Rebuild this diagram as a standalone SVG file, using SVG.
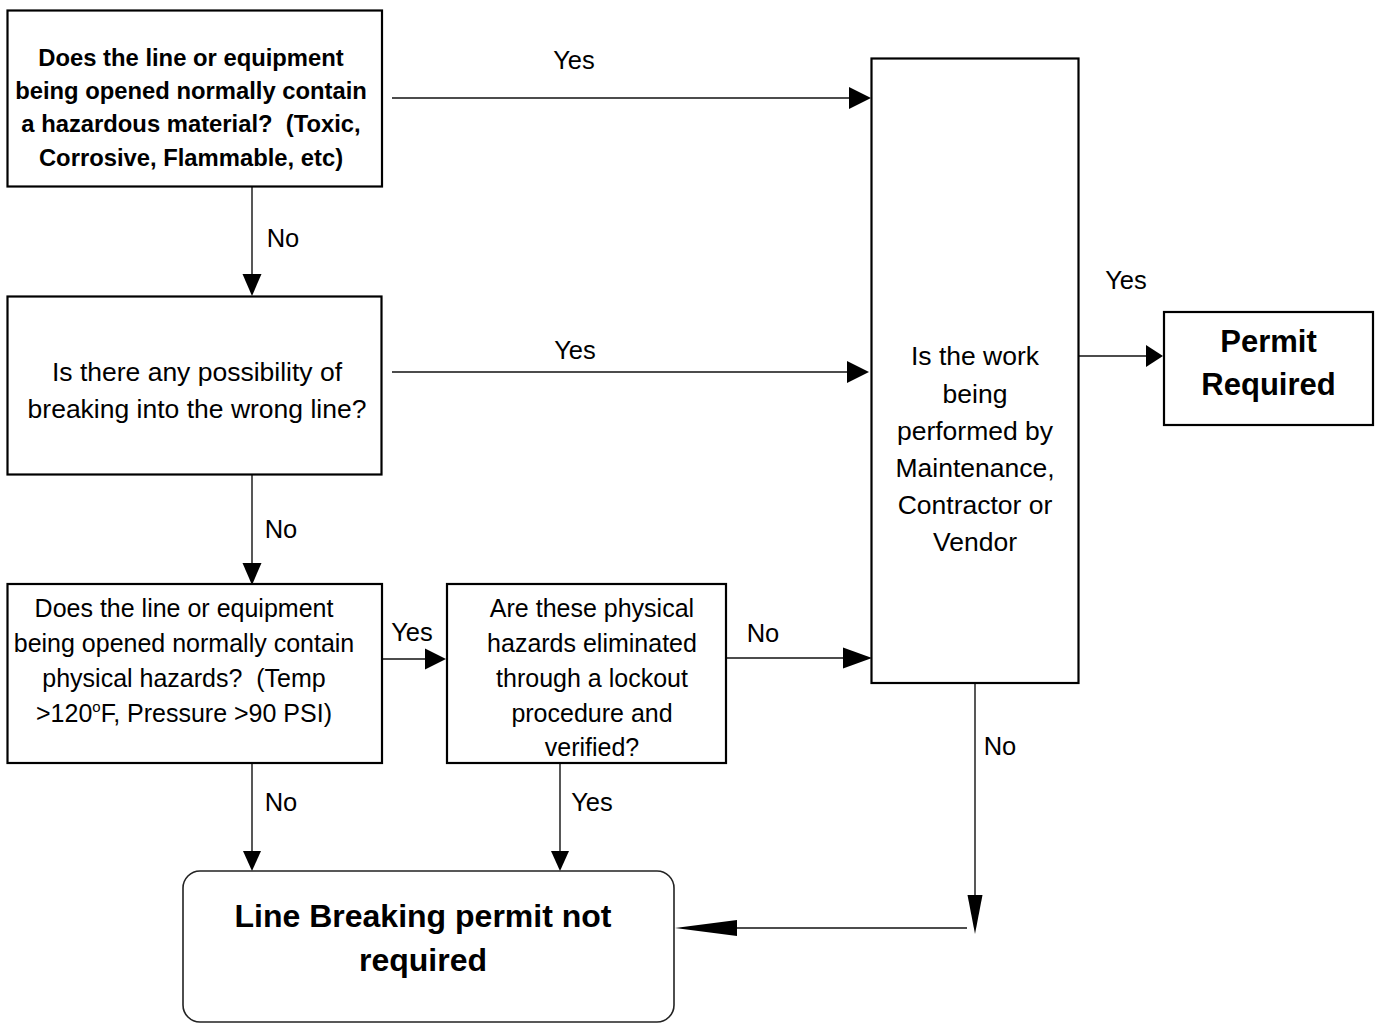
<svg xmlns="http://www.w3.org/2000/svg" width="1376" height="1023" viewBox="0 0 1376 1023">
<style>
.box{fill:#fff;stroke:#000;stroke-width:2.2}
.rbox{fill:#fff;stroke:#222;stroke-width:1.6}
.ln{fill:none;stroke:#111;stroke-width:1.4}
.hd{fill:#000;stroke:none}
text{font-family:"Liberation Sans",Arial,sans-serif;fill:#000;text-anchor:middle;white-space:pre}
.t{font-size:25px}
.tw{font-size:26.5px}
.tb{font-size:23.8px;font-weight:bold}
.tB{font-size:31px;font-weight:bold}
.tL{font-size:32px;font-weight:bold}
.lbl{font-size:25.5px}
</style>
<rect width="1376" height="1023" fill="#fff"/>
<g id="connectors">
  <path class="ln" d="M392,98 H850"/><polygon class="hd" points="849,87 871,98 849,109"/>
  <path class="ln" d="M252,187 V276"/><polygon class="hd" points="242.5,274 261.5,274 252,296"/>
  <path class="ln" d="M392,372 H848"/><polygon class="hd" points="847,361 869,372 847,383"/>
  <path class="ln" d="M252,475 V565"/><polygon class="hd" points="242.5,563 261.5,563 252,585"/>
  <path class="ln" d="M382,659 H426"/><polygon class="hd" points="425,648.5 446,659 425,669.5"/>
  <path class="ln" d="M726,658 H845"/><polygon class="hd" points="843,647.5 872,658 843,668.5"/>
  <path class="ln" d="M1079,356 H1148"/><polygon class="hd" points="1146,345 1163,356 1146,367"/>
  <path class="ln" d="M975,683 V897"/><polygon class="hd" points="967.5,895 982.5,895 975,934"/>
  <path class="ln" d="M967,928 H735"/><polygon class="hd" points="737,920 737,936 675,928"/>
  <path class="ln" d="M252,763 V852"/><polygon class="hd" points="243,851 261,851 252,871"/>
  <path class="ln" d="M560,763 V852"/><polygon class="hd" points="551,851 569,851 560,871"/>
  <text class="lbl" x="574" y="69">Yes</text>
  <text class="lbl" x="283" y="247">No</text>
  <text class="lbl" x="575" y="359">Yes</text>
  <text class="lbl" x="281" y="538">No</text>
  <text class="lbl" x="412" y="641">Yes</text>
  <text class="lbl" x="763" y="642">No</text>
  <text class="lbl" x="1126" y="289">Yes</text>
  <text class="lbl" x="1000" y="755">No</text>
  <text class="lbl" x="281" y="811">No</text>
  <text class="lbl" x="592" y="811">Yes</text>
</g>
<g id="q1">
  <rect class="box" x="7.5" y="10.5" width="374.5" height="176"/>
  <text class="tb" x="191" y="66">Does the line or equipment</text>
  <text class="tb" x="191" y="99">being opened normally contain</text>
  <text class="tb" x="191" y="132">a hazardous material?  (Toxic,</text>
  <text class="tb" x="191" y="166">Corrosive, Flammable, etc)</text>
</g>
<g id="q2">
  <rect class="box" x="7.5" y="296.5" width="374" height="178"/>
  <text class="tw" x="197" y="381">Is there any possibility of</text>
  <text class="tw" x="197" y="418">breaking into the wrong line?</text>
</g>
<g id="q3">
  <rect class="box" x="7.5" y="584" width="374.5" height="179"/>
  <text class="t" x="184" y="617">Does the line or equipment</text>
  <text class="t" x="184" y="652">being opened normally contain</text>
  <text class="t" x="184" y="687">physical hazards?  (Temp</text>
  <text class="t" x="184" y="722">&gt;120<tspan font-size="15" dy="-10">o</tspan><tspan dy="10">F, Pressure &gt;90 PSI)</tspan></text>
</g>
<g id="q4">
  <rect class="box" x="447" y="584" width="279" height="179"/>
  <text class="t" x="592" y="617">Are these physical</text>
  <text class="t" x="592" y="652">hazards eliminated</text>
  <text class="t" x="592" y="687">through a lockout</text>
  <text class="t" x="592" y="722">procedure and</text>
  <text class="t" x="592" y="756">verified?</text>
</g>
<g id="q5">
  <rect class="box" x="871.5" y="58.5" width="207" height="624.5"/>
  <text class="tw" x="975" y="365">Is the work</text>
  <text class="tw" x="975" y="403">being</text>
  <text class="tw" x="975" y="440">performed by</text>
  <text class="tw" x="975" y="477">Maintenance,</text>
  <text class="tw" x="975" y="514">Contractor or</text>
  <text class="tw" x="975" y="551">Vendor</text>
</g>
<g id="permit">
  <rect class="box" x="1164" y="312" width="209" height="113"/>
  <text class="tB" x="1268.5" y="352">Permit</text>
  <text class="tB" x="1268.5" y="395">Required</text>
</g>
<g id="notrequired">
  <rect class="rbox" x="183" y="871" width="491" height="151" rx="17" ry="17"/>
  <text class="tL" x="423" y="927">Line Breaking permit not</text>
  <text class="tL" x="423" y="971">required</text>
</g>
</svg>
